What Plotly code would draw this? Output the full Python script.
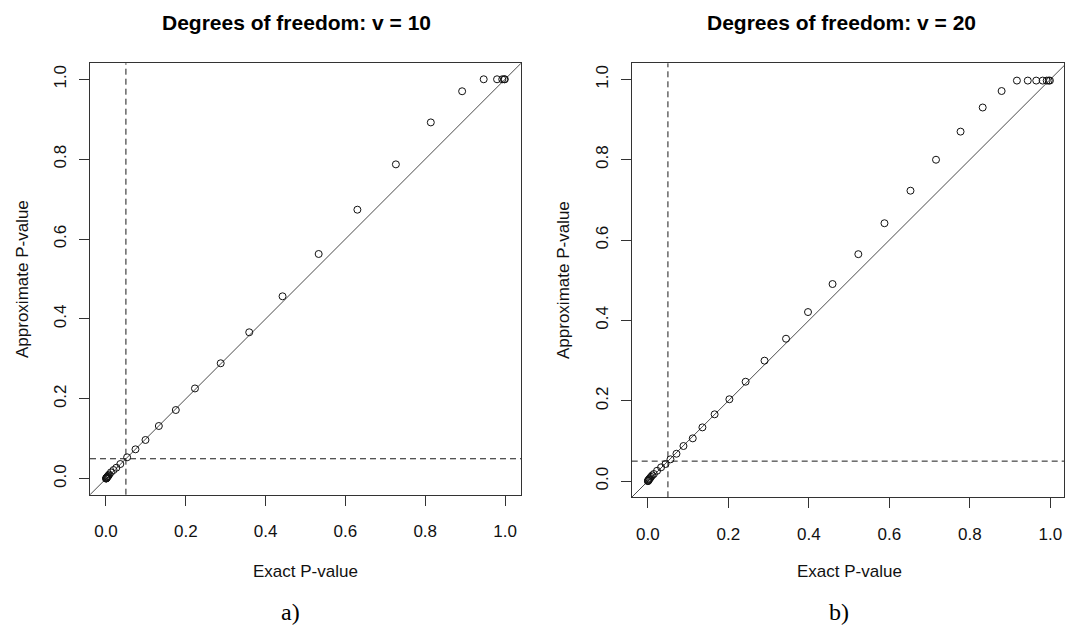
import plotly.graph_objects as go

# ---- data ----
exact_v10 = [0.0002, 0.0005, 0.001, 0.0015, 0.002, 0.003, 0.004, 0.005, 0.0065, 0.008,
             0.0125, 0.019, 0.026, 0.036, 0.053, 0.074, 0.099, 0.1325, 0.175, 0.223,
             0.2875, 0.359, 0.4425, 0.533, 0.63, 0.7265, 0.814, 0.8925, 0.9465, 0.98,
             0.993, 0.998, 0.9995]
approx_v10 = [0.0003, 0.0007, 0.0013, 0.002, 0.0027, 0.004, 0.005, 0.0065, 0.008, 0.0105,
              0.016, 0.0218, 0.0275, 0.0368, 0.0536, 0.0736, 0.097, 0.132, 0.172, 0.226,
              0.289, 0.3666, 0.4567, 0.5626, 0.6735, 0.787, 0.892, 0.970, 1.0, 1.0,
              1.0, 1.0, 1.0]

exact_v20 = [0.0002, 0.0005, 0.001, 0.002, 0.003, 0.004, 0.006, 0.008, 0.011, 0.015,
             0.023, 0.033, 0.044, 0.0563, 0.0712, 0.0886, 0.1117, 0.1357, 0.166, 0.2027,
             0.243, 0.290, 0.3434, 0.398, 0.459, 0.523, 0.588, 0.6526, 0.716, 0.777,
             0.832, 0.879, 0.917, 0.944, 0.965, 0.981, 0.991, 0.996, 0.999]
approx_v20 = [0.0003, 0.0008, 0.0015, 0.003, 0.0045, 0.006, 0.008, 0.011, 0.0145, 0.018,
              0.026, 0.0346, 0.0428, 0.0545, 0.0684, 0.0876, 0.1067, 0.134, 0.1665, 0.204,
              0.2476, 0.300, 0.3546, 0.421, 0.4907, 0.565, 0.642, 0.723, 0.800, 0.870,
              0.930, 0.971, 0.997, 0.997, 0.997, 0.997, 0.997, 0.997, 0.997]

identity_line = [-0.1, 1.1]
alpha = 0.05
tick_vals = [0.0, 0.2, 0.4, 0.6, 0.8, 1.0]
tick_text = ["0.0", "0.2", "0.4", "0.6", "0.8", "1.0"]
titles = ["Degrees of freedom: v = 10", "Degrees of freedom: v = 20"]
panel_labels = ["a)", "b)"]
x_label = "Exact P-value"
y_label = "Approximate P-value"

W, H = 1065, 626
FONT = "Liberation Sans, Arial, sans-serif"

fig = go.Figure()

panels = [
    dict(x=exact_v10, y=approx_v10, xa="x", ya="y",
         xdom=[90 / W, 521 / W], ydom=[1 - 494.7 / H, 1 - 63.3 / H],
         xr=[-0.04, 1.04]),
    dict(x=exact_v20, y=approx_v20, xa="x2", ya="y2",
         xdom=[631.7 / W, 1064 / W], ydom=[1 - 497.3 / H, 1 - 63.3 / H],
         xr=[-0.04, 1.034]),
]

for i, p in enumerate(panels):
    fig.add_trace(go.Scatter(x=identity_line, y=identity_line, mode="lines",
                             line=dict(color="#4a4a4a", width=1),
                             xaxis=p["xa"], yaxis=p["ya"], showlegend=False,
                             hoverinfo="skip"))
    fig.add_trace(go.Scatter(x=p["x"], y=p["y"], mode="markers",
                             marker=dict(symbol="circle-open", size=7,
                                         color="#111111", line=dict(width=1)),
                             xaxis=p["xa"], yaxis=p["ya"], showlegend=False))
    sfx = "" if i == 0 else "2"
    axis_common = dict(tickvals=tick_vals, ticktext=tick_text,
                       ticks="outside", ticklen=10, tickcolor="#333333",
                       showline=True, mirror=True, linecolor="#333333", linewidth=1,
                       showgrid=False, zeroline=False,
                       tickfont=dict(family=FONT, size=17, color="#111111"))
    xa = dict(axis_common); xa.update(domain=p["xdom"], range=p["xr"],
                                      anchor="y" + sfx, ticklabelstandoff=11)
    ya = dict(axis_common); ya.update(domain=p["ydom"], range=[-0.04, 1.04],
                                      anchor="x" + sfx, tickangle=-90,
                                      ticklabelstandoff=6)
    fig.update_layout(**{"xaxis" + sfx: xa, "yaxis" + sfx: ya})

    # significance level reference lines
    fig.add_shape(type="line", xref=p["xa"], yref=p["ya"] + " domain",
                  x0=alpha, x1=alpha, y0=0, y1=1,
                  line=dict(color="#1a1a1a", width=1, dash="6px,4px"))
    fig.add_shape(type="line", xref=p["xa"] + " domain", yref=p["ya"],
                  x0=0, x1=1, y0=alpha, y1=alpha,
                  line=dict(color="#1a1a1a", width=1, dash="6px,4px"))

annotations = [
    dict(text="<b>" + titles[0] + "</b>", x=296 / W, y=1 - 22 / H),
    dict(text="<b>" + titles[1] + "</b>", x=841 / W, y=1 - 22 / H),
]
anns = []
for a in annotations:
    anns.append(dict(text=a["text"], x=a["x"], y=a["y"], xref="paper", yref="paper",
                     showarrow=False, xanchor="center", yanchor="middle",
                     font=dict(family=FONT, size=21, color="#000000")))
for xc in [305.5 / W, 849 / W]:
    anns.append(dict(text=x_label, x=xc, y=1 - 571 / H, xref="paper", yref="paper",
                     showarrow=False, xanchor="center", yanchor="middle",
                     font=dict(family=FONT, size=17, color="#111111")))
for xc, yc in [(22 / W, 1 - 279 / H), (563 / W, 1 - 280 / H)]:
    anns.append(dict(text=y_label, x=xc, y=yc, xref="paper", yref="paper",
                     showarrow=False, xanchor="center", yanchor="middle", textangle=-90,
                     font=dict(family=FONT, size=17, color="#111111")))
for lab, xc in zip(panel_labels, [290 / W, 839 / W]):
    anns.append(dict(text=lab, x=xc, y=1 - 612 / H, xref="paper", yref="paper",
                     showarrow=False, xanchor="center", yanchor="middle",
                     font=dict(family="Liberation Serif, Times New Roman, serif",
                               size=24, color="#000000")))

fig.update_layout(width=W, height=H, margin=dict(l=0, r=0, t=0, b=0),
                  paper_bgcolor="white", plot_bgcolor="white",
                  annotations=anns, showlegend=False)

fig.write_html("out.html")
